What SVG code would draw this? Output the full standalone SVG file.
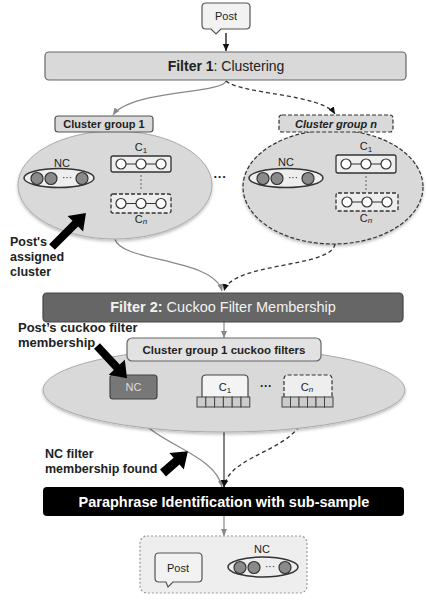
<svg xmlns="http://www.w3.org/2000/svg" width="427" height="601" viewBox="0 0 427 601">
<defs>
<marker id="ahB" markerWidth="8" markerHeight="8" refX="7" refY="4" orient="auto" markerUnits="userSpaceOnUse"><path d="M0,0.8 L7,4 L0,7.2 Z" fill="#111"/></marker>
<marker id="ahG" markerWidth="8" markerHeight="8" refX="7" refY="4" orient="auto" markerUnits="userSpaceOnUse"><path d="M0,1 L7,4 L0,7 Z" fill="#888"/></marker>
<filter id="sh" x="-10%" y="-10%" width="120%" height="130%"><feDropShadow dx="0" dy="2" stdDeviation="1.5" flood-color="#000" flood-opacity="0.25"/></filter>
</defs>
<style>
text{font-family:"Liberation Sans",Arial,sans-serif;fill:#222}
.b{font-weight:bold}
.c{text-anchor:middle}
.lbl{font-size:11px}
.big{fill:#d9d9d9;stroke:#aaa;stroke-width:1}
.bigd{fill:#d9d9d9;stroke:#333;stroke-width:1.2;stroke-dasharray:4,2}
.inner{fill:#eee;stroke:#333;stroke-width:1.5}
.gc{fill:#8a8a8a;stroke:#333;stroke-width:1.2}
.wc{fill:#fff;stroke:#333;stroke-width:1.2}
.dash{stroke-dasharray:4,2}
.cell{fill:#ccc;stroke:#444;stroke-width:1}
.conG{fill:none;stroke:#888;stroke-width:1.2}
.conD{fill:none;stroke:#333;stroke-width:1.3;stroke-dasharray:4,3}
</style>

<g id="connectors">
<line x1="226" y1="33" x2="226" y2="51" stroke="#111" stroke-width="1.3" marker-end="url(#ahB)"/>
<path class="conG" d="M226,81 C222,94 130,90 113,115" marker-end="url(#ahG)"/>
<path class="conD" d="M226,81 C240,94 322,94 335,114" marker-end="url(#ahB)"/>
<path class="conG" d="M115,239 C120,262 214,258 222,291" marker-end="url(#ahG)"/>
<path class="conD" d="M335,244 C332,268 232,262 224,291" marker-end="url(#ahB)"/>
<line x1="224" y1="322" x2="224" y2="338" stroke="#888" stroke-width="1.2" marker-end="url(#ahG)"/>
<path class="conG" d="M134,399 C130,440 214,448 222,487" marker-end="url(#ahG)"/>
<line x1="224" y1="407" x2="224" y2="487" stroke="#444" stroke-width="1.3" marker-end="url(#ahB)"/>
<path class="conD" d="M307,407 C302,452 230,452 224,487" marker-end="url(#ahB)"/>
<line x1="224" y1="516" x2="224" y2="536" stroke="#888" stroke-width="1.2" marker-end="url(#ahG)"/>
<line x1="202" y1="567" x2="228" y2="567" stroke="#111" stroke-width="1.3" marker-end="url(#ahB)"/>
</g>

<g id="post-top">
<path d="M206,3 H246 Q250,3 250,7 V25 Q250,29 246,29 H221 L216,34 L211,29 H206 Q202,29 202,25 V7 Q202,3 206,3 Z" fill="#f2f2f2" stroke="#555" stroke-width="1.2"/>
<text class="c" x="226" y="20" font-size="11">Post</text>
</g>

<g id="filter1">
<rect x="45" y="52" width="361" height="28" rx="4" fill="#d9d9d9" stroke="#666" stroke-width="1.2"/>
<text class="c" x="226" y="71" font-size="14"><tspan class="b">Filter 1</tspan>: Clustering</text>
</g>

<g id="cluster-group-1">
<ellipse class="big" cx="115" cy="185" rx="97" ry="54" filter="url(#sh)"/>
<rect x="55" y="116" width="98" height="16" rx="3" fill="#d9d9d9" stroke="#555" stroke-width="1.2"/>
<text class="c b" x="104" y="128" font-size="11">Cluster group 1</text>
<text class="c lbl" x="62" y="167">NC</text>
<ellipse class="inner" cx="59" cy="178" rx="35" ry="9.5"/>
<circle class="gc" cx="37" cy="178.5" r="6"/><circle class="gc" cx="51" cy="178.5" r="6"/><circle class="gc" cx="82" cy="178.5" r="6"/>
<text class="c" x="67" y="181" font-size="10">···</text>
<text class="c lbl" x="141" y="151">C<tspan font-size="8" dy="2">1</tspan></text>
<rect x="111" y="156" width="60" height="16" rx="2" fill="#eee" stroke="#333" stroke-width="1.3"/>
<line x1="121" y1="164" x2="161" y2="164" stroke="#333" stroke-width="1.2"/>
<circle class="wc" cx="121" cy="164" r="5"/><circle class="wc" cx="141" cy="164" r="5"/><circle class="wc" cx="161" cy="164" r="5"/>
<line x1="141" y1="175" x2="141" y2="191" stroke="#777" stroke-width="1.2" stroke-dasharray="2,2"/>
<rect class="dash" x="111" y="194" width="60" height="19" rx="2" fill="#eee" stroke="#333" stroke-width="1.3"/>
<line x1="121" y1="203.5" x2="161" y2="203.5" stroke="#333" stroke-width="1.2"/>
<circle class="wc" cx="121" cy="203.5" r="5"/><circle class="wc" cx="141" cy="203.5" r="5"/><circle class="wc" cx="161" cy="203.5" r="5"/>
<text class="c lbl" x="141" y="223">C<tspan font-size="8" dy="1" font-style="italic">n</tspan></text>
</g>

<g id="ellipsis-groups">
<text class="c b" x="220" y="181" font-size="13">···</text>
</g>

<g id="cluster-group-n">
<ellipse class="bigd" cx="333" cy="187" rx="90" ry="57" filter="url(#sh)"/>
<rect class="dash" x="279" y="115" width="114" height="17" rx="3" fill="#d9d9d9" stroke="#333" stroke-width="1.2"/>
<text class="c b" x="336" y="128" font-size="11" font-style="italic">Cluster group n</text>
<text class="c lbl" x="286" y="166">NC</text>
<ellipse class="inner" cx="286" cy="178" rx="37" ry="9.5"/>
<circle class="gc" cx="263" cy="178.5" r="6"/><circle class="gc" cx="277" cy="178.5" r="6"/><circle class="gc" cx="308" cy="178.5" r="6"/>
<text class="c" x="293" y="181" font-size="10">···</text>
<text class="c lbl" x="366" y="150">C<tspan font-size="8" dy="2">1</tspan></text>
<rect x="336" y="155" width="60" height="18" rx="2" fill="#eee" stroke="#333" stroke-width="1.3"/>
<line x1="346" y1="164" x2="386" y2="164" stroke="#333" stroke-width="1.2"/>
<circle class="wc" cx="346" cy="164" r="5"/><circle class="wc" cx="366" cy="164" r="5"/><circle class="wc" cx="386" cy="164" r="5"/>
<line x1="366" y1="176" x2="366" y2="191" stroke="#777" stroke-width="1.2" stroke-dasharray="2,2"/>
<rect class="dash" x="336" y="193" width="62" height="18" rx="2" fill="#eee" stroke="#333" stroke-width="1.3"/>
<line x1="346" y1="202" x2="388" y2="202" stroke="#333" stroke-width="1.2"/>
<circle class="wc" cx="347" cy="202" r="5"/><circle class="wc" cx="367" cy="202" r="5"/><circle class="wc" cx="387" cy="202" r="5"/>
<text class="c lbl" x="366" y="222">C<tspan font-size="8" dy="1" font-style="italic">n</tspan></text>
</g>

<g id="note-assigned">
<path d="M0,-4 H33 V-11 L48,0 L33,11 V4 H0 Z" transform="translate(52,247) rotate(-45)" fill="#000"/>
<text class="b" x="10" y="246" font-size="12.5">Post's</text>
<text class="b" x="10" y="261" font-size="12.5">assigned</text>
<text class="b" x="10" y="276" font-size="12.5">cluster</text>
</g>

<g id="filter2">
<rect x="43" y="293" width="360" height="29" rx="4" fill="#666" stroke="#444" stroke-width="1.2"/>
<text class="c" x="223" y="312" font-size="14.5" style="fill:#f2f2f2"><tspan class="b">Filter 2:</tspan> Cuckoo Filter Membership</text>
</g>

<g id="cuckoo-filters">
<ellipse class="big" cx="224" cy="390" rx="181" ry="42" filter="url(#sh)"/>
<rect x="127" y="338" width="194" height="23" rx="5" fill="#e2e2e2" stroke="#666" stroke-width="1.2"/>
<text class="c b" x="224" y="354" font-size="11.5">Cluster group 1 cuckoo filters</text>
<rect x="110" y="375" width="47" height="24" rx="3" fill="#777" stroke="#444" stroke-width="1.2"/>
<text class="c lbl" x="133.5" y="391" style="fill:#ddd">NC</text>
<path d="M202,397 V379 Q202,375 206,375 H244 Q248,375 248,379 V397" fill="#f4f4f4" stroke="#444" stroke-width="1.2"/>
<text class="c lbl" x="225" y="391">C<tspan font-size="8" dy="2">1</tspan></text>
<rect class="cell" x="197" y="397" width="8.8" height="10"/><rect class="cell" x="205.8" y="397" width="8.8" height="10"/><rect class="cell" x="214.6" y="397" width="8.8" height="10"/><rect class="cell" x="223.4" y="397" width="8.8" height="10"/><rect class="cell" x="232.2" y="397" width="8.8" height="10"/><rect class="cell" x="241" y="397" width="8.8" height="10"/>
<text class="c b" x="266" y="390" font-size="12">···</text>
<path class="dash" d="M284,397 V379 Q284,375 288,375 H328 Q332,375 332,379 V397" fill="#eee" stroke="#333" stroke-width="1.2"/>
<text class="c lbl" x="307" y="391">C<tspan font-size="8" dy="1" font-style="italic">n</tspan></text>
<rect class="cell" x="282" y="397" width="8.5" height="10"/><rect class="cell" x="290.5" y="397" width="8.5" height="10"/><rect class="cell" x="299" y="397" width="8.5" height="10"/><rect class="cell" x="307.5" y="397" width="8.5" height="10"/><rect class="cell" x="316" y="397" width="8.5" height="10"/><rect class="cell" x="324.5" y="397" width="8.5" height="10"/>
</g>

<g id="note-cuckoo">
<path d="M0,-4 H29 V-11 L44,0 L29,11 V4 H0 Z" transform="translate(97,346) rotate(47)" fill="#000"/>
<text class="b" x="18" y="332" font-size="13">Post’s cuckoo filter</text>
<text class="b" x="18" y="347" font-size="13">membership</text>
</g>

<g id="note-nc-found">
<path d="M0,-4.5 H18 V-11 L33,0 L18,11 V4.5 H0 Z" transform="translate(163,473) rotate(-41)" fill="#000"/>
<text class="b" x="45" y="458" font-size="12.5">NC filter</text>
<text class="b" x="45" y="473" font-size="12.5">membership found</text>
</g>

<g id="paraphrase">
<rect x="43" y="487" width="361" height="29" rx="4" fill="#000"/>
<text class="c b" x="224" y="507" font-size="14.5" style="fill:#fff">Paraphrase Identification with sub-sample</text>
</g>

<g id="result">
<rect x="140" y="536" width="167" height="57" rx="7" fill="#eee" stroke="#999" stroke-width="1.2" stroke-dasharray="2,2"/>
<path d="M159,553 H198 Q202,553 202,557 V578 Q202,582 198,582 H173 L168,587 L166,582 H159 Q155,582 155,578 V557 Q155,553 159,553 Z" fill="#f2f2f2" stroke="#555" stroke-width="1.2"/>
<text class="c" x="178" y="572" font-size="11">Post</text>
<text class="c lbl" x="262" y="553">NC</text>
<ellipse class="inner" cx="263" cy="567" rx="35" ry="10"/>
<circle class="gc" cx="240" cy="567.5" r="6"/><circle class="gc" cx="254" cy="567.5" r="6"/><circle class="gc" cx="285" cy="567.5" r="6"/>
<text class="c" x="270" y="570" font-size="10">···</text>
</g>
</svg>
